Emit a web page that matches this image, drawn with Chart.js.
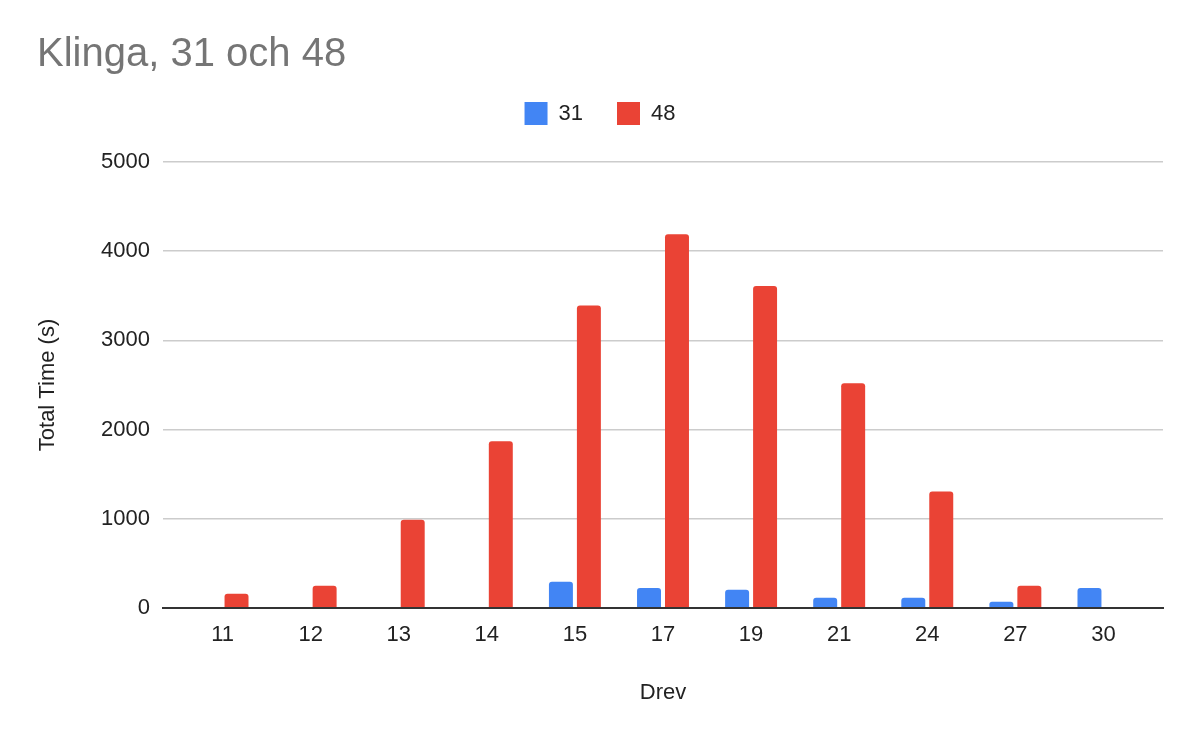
<!DOCTYPE html>
<html>
<head>
<meta charset="utf-8">
<script src="https://cdn.jsdelivr.net/npm/chart.js@4"></script>
<style>
  html, body { margin: 0; padding: 0; background: #fff; }
  #wrap { width: 1200px; height: 742px; }
</style>
</head>
<body>
<div id="wrap"><canvas id="myChart" width="1200" height="742"></canvas></div>
<script>
// values
const drev = ['11', '12', '13', '14', '15', '17', '19', '21', '24', '27', '30'];
const time31 = [null, null, null, null, 295, 225, 205, 115, 115, 70, 225];
const time48 = [160, 250, 990, 1870, 3390, 4190, 3610, 2520, 1305, 250, null];
const yTicks = [0, 1000, 2000, 3000, 4000, 5000];

const font = 'Arial, "Liberation Sans", sans-serif';

// Google-style inset of the category band inside the plot area
const insetPlugin = {
    id: 'inset',
    beforeLayout: (chart) => {
        let legend = chart.legend;
        if (legend && !legend._wrapped) {
            let fit = legend.fit;
            legend.fit = function () {
                fit.call(this);
                this.height = 94;
            };
            legend._wrapped = true;
        }
    },
    afterLayout: (chart) => {
        let x = chart.scales.x;
        x._startPixel += 15.5;
        x._endPixel -= 15.5;
        x._length = x._endPixel - x._startPixel;
    }
};

let ctx = document.getElementById('myChart').getContext('2d');

this.chart = new Chart(ctx, {
    type: 'bar',
    data: {
        labels: drev,
        datasets: [
            {
                label: '31',
                data: time31,
                backgroundColor: '#4285F4',
                borderRadius: 3,
                categoryPercentage: 0.635,
                barPercentage: 0.857
            },
            {
                label: '48',
                data: time48,
                backgroundColor: '#EA4335',
                borderRadius: 3,
                categoryPercentage: 0.635,
                barPercentage: 0.857
            }]
    },
    options: {
        responsive: false,
        animation: false,
        layout: { padding: { left: 37, right: 37, top: 0, bottom: 0 } },
        plugins: {
            title: {
                display: true,
                text: 'Klinga, 31 och 48',
                align: 'start',
                color: '#757575',
                font: { family: font, size: 40, weight: 'normal', lineHeight: 1 },
                padding: { top: 35, bottom: -7 }
            },
            legend: {
                position: 'top',
                labels: {
                    boxWidth: 23,
                    boxHeight: 23,
                    padding: 34,
                    color: '#222',
                    font: { family: font, size: 22 }
                }
            },
            tooltip: { enabled: false }
        },
        scales: {
            x: {
                grid: { display: false },
                border: { display: true, color: '#333', width: 2 },
                ticks: {
                    color: '#222',
                    padding: 6,
                    font: { family: font, size: 22 }
                },
                title: {
                    display: true,
                    text: 'Drev',
                    color: '#222',
                    font: { family: font, size: 22, lineHeight: 1 },
                    padding: { top: 0, bottom: 38 }
                },
                afterFit: (s) => { s.height = 134; }
            },
            y: {
                min: 0,
                max: 5000,
                afterBuildTicks: (s) => { s.ticks = yTicks.map(v => ({ value: v })); },
                grid: {
                    drawTicks: false,
                    color: (c) => c.tick && c.tick.value === 0 ? '#333' : '#cccccc',
                    lineWidth: (c) => c.tick && c.tick.value === 0 ? 2 : 1.5
                },
                border: { display: false },
                ticks: {
                    color: '#222',
                    padding: 13,
                    font: { family: font, size: 22 },
                    callback: (v) => String(v)
                },
                title: {
                    display: true,
                    text: 'Total Time (s)',
                    color: '#222',
                    font: { family: font, size: 22, lineHeight: 1 },
                    padding: { top: 0, bottom: 0 }
                },
                afterFit: (s) => { s.width = 126; }
            }
        }
    },
    plugins: [insetPlugin]
});
</script>
</body>
</html>
